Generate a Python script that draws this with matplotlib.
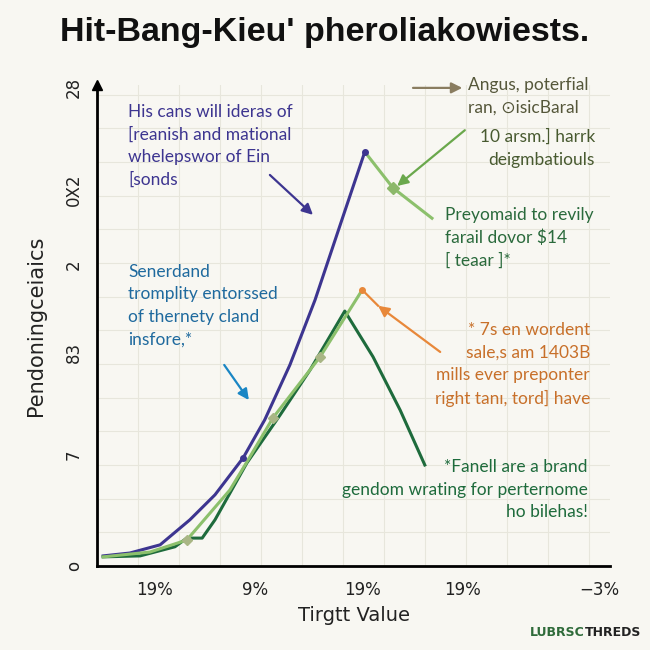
import matplotlib
matplotlib.use("Agg")
import matplotlib.pyplot as plt

# data (x: 0-100 along axis, y: 0-100 along axis)
purple_x = [1.2, 6.4, 12.3, 18.1, 23.0, 28.5, 32.7, 37.6, 42.5, 47.4, 52.2]
purple_y = [2.1, 2.7, 4.4, 9.6, 14.8, 22.5, 30.4, 41.8, 55.3, 70.9, 86.1]
purple_marks = [5, 10]

light_x = [1.2, 10.3, 17.5, 25.9, 29.2, 34.3, 43.5, 51.7]
light_y = [1.9, 2.9, 5.4, 15.8, 21.6, 30.8, 43.5, 57.4]
light_marks = [2, 5, 6]

upper_x = [52.2, 57.7, 65.3]
upper_y = [86.1, 78.6, 72.3]

dark_x = [1.2, 8.4, 15.2, 17.5, 20.5, 23.0, 29.2, 35.7, 41.5, 48.3, 53.8, 59.1, 63.9]
dark_y = [1.9, 2.1, 4.0, 5.8, 5.8, 9.6, 21.4, 31.4, 40.7, 53.0, 43.5, 32.4, 21.0]

peak_x, peak_y = 51.7, 57.4

yticks = [0, 23.1, 44.3, 62.6, 78.2, 99.4]
ylabels = ["o", "7", "83", "2", "0X2", "28"]
xticks = [11.3, 30.8, 51.7, 71.2, 98.0]
xlabels = ["19%", "9%", "19%", "19%", "\u22123%"]

PURPLE = "#3d3590"
LIGHT = "#8cc06c"
DARK = "#1e6b3c"
ORANGE = "#e8883a"
BLUE = "#1a86c4"
BG = "#f8f7f2"

fig = plt.figure(figsize=(6.5, 6.5), dpi=100, facecolor=BG)
ax = fig.add_axes([97/650, 84/650, 513/650, 481/650], facecolor=BG)
ax.set_xlim(0, 100)
ax.set_ylim(0, 100)

for v in range(0, 101, 8):
    ax.axvline(v, color="#e7e6dc", lw=0.8, zorder=0)
for v in range(0, 101, 7):
    ax.axhline(v, color="#e7e6dc", lw=0.8, zorder=0)

ax.plot(purple_x, purple_y, color=PURPLE, lw=2.2, zorder=3)
ax.plot([purple_x[i] for i in purple_marks], [purple_y[i] for i in purple_marks],
        "o", color=PURPLE, ms=4, zorder=4)
ax.plot(dark_x, dark_y, color=DARK, lw=2.2, zorder=3)
ax.plot(light_x, light_y, color=LIGHT, lw=2.2, zorder=3)
ax.plot(upper_x, upper_y, color=LIGHT, lw=2.2, zorder=3)
ax.plot([light_x[i] for i in light_marks], [light_y[i] for i in light_marks],
        "D", color="#a9b685", ms=5, zorder=5)
ax.plot(upper_x[1], upper_y[1], "D", color="#8cb86a", ms=6, zorder=5)
ax.plot(peak_x, peak_y, "o", color=ORANGE, ms=4, zorder=5)

# arrows
arrows = [
    ((33.7, 81.3), (42.1, 73.0), PURPLE),
    ((71.7, 90.6), (58.5, 79.0), "#6aa84c"),
    ((61.6, 99.4), (71.2, 99.4), "#8a7d60"),
    ((24.8, 41.8), (29.6, 34.5), BLUE),
    ((66.9, 44.5), (54.8, 54.1), ORANGE),
]
for start, end, col in arrows:
    ax.annotate("", xy=end, xytext=start,
                arrowprops=dict(arrowstyle="-|>", color=col, lw=1.6,
                                mutation_scale=16, shrinkA=0, shrinkB=0))
ax.plot([peak_x, 54.8], [peak_y, 54.1], color=ORANGE, lw=1.6, zorder=4)

for s in ["top", "right"]:
    ax.spines[s].set_visible(False)
ax.spines["left"].set_linewidth(2)
ax.spines["bottom"].set_linewidth(2)
ax.plot(0, 1.0, "^", color="black", ms=7, transform=ax.transAxes, clip_on=False)

ax.set_yticks(yticks)
ax.set_yticklabels(ylabels, rotation=90, va="center", fontsize=12, color="#222222")
ax.set_xticks(xticks)
ax.set_xticklabels(xlabels, fontsize=12, color="#222222")
ax.tick_params(length=0)
ax.tick_params(axis="y", pad=10)
ax.tick_params(axis="x", pad=11)

ax.set_ylabel("Pendoningceiaics", fontsize=15, labelpad=14, color="#222222")
ax.set_xlabel("Tirgtt Value", fontsize=14, labelpad=5, color="#222222")

fig.text(0.5, 1 - 33/650, "Hit-Bang-Kieu' pheroliakowiests.", ha="center", va="center",
         fontsize=24.5, fontweight="bold", family="Liberation Sans", color="#111111")

def note(x, y, s, col, ha="left"):
    fig.text(x/650, 1 - y/650, s, ha=ha, va="top", fontsize=12.5, color=col,
             linespacing=1.5, multialignment=ha, family=["Lato", "DejaVu Sans"])

note(128, 104, "His cans will ideras of\n[reanish and mational\nwhelepswor of Ein\n[sonds", PURPLE)
note(128, 264, "Senerdand\ntromplity entorssed\nof thernety cland\ninsfore,*", "#1f6a9e")
note(468, 77, "Angus, poterfial\nran, \u2299isicBaral", "#55573a")
note(595, 129, "10 arsm.] harrk\ndeigmbatiouls", "#485a30", ha="right")
note(445, 207, "Preyomaid to revily\nfarail dovor $14\n[ teaar ]*", "#2a6a3c")
note(590, 322, "* 7s en wordent\nsale,s am 1403B\nmills ever preponter\nright tan\u0131, tord] have",
     "#c8702a", ha="right")
note(588, 459, "*Fanell are a brand\ngendom wrating for perternome\nho bilehas!", DARK, ha="right")

fig.canvas.draw()
t1 = fig.text(530/650, 1 - 632/650, "LUBRSC", fontsize=9, fontweight="bold",
              color="#2f6b3a", va="center")
fig.canvas.draw()
bb = t1.get_window_extent()
fig.text(bb.x1/650, 1 - 632/650, "THREDS", fontsize=9, fontweight="bold",
         color="#222222", va="center")

fig.savefig("out.png", dpi=100, facecolor=BG)
